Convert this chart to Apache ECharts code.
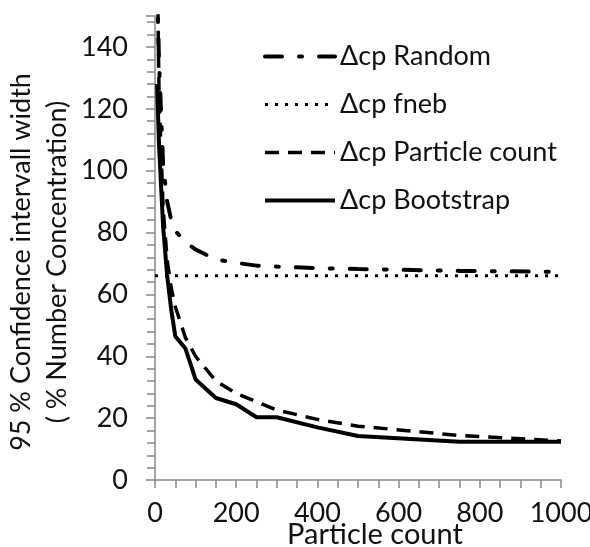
<!DOCTYPE html>
<html><head><meta charset="utf-8">
<script src="https://cdn.jsdelivr.net/npm/echarts@6/dist/echarts.min.js"></script>
<style>html,body{margin:0;padding:0;background:#fff}#c{width:590px;height:547px}</style>
</head><body><div id="c"></div>
<script>
const particleCounts = [5, 10, 20, 30, 40, 50, 75, 100, 150, 200, 250, 300, 400, 500, 750, 1000];
const randomVals     = [160, 135, 102, 90, 84, 80.5, 77, 74.5, 71.3, 70.2, 69.3, 69, 68.5, 68.2, 67.6, 67.3];
const particleVals   = [175, 124, 88, 71, 62, 56, 46, 40, 32, 28, 25.3, 22.6, 19.6, 17.4, 14.4, 12.6];
const bootstrapVals  = [128, 108, 82, 66, 55, 46.5, 42.5, 32.5, 26.5, 24.5, 20.3, 20.3, 17, 14.2, 12.4, 12.4];
const fnebX = [0, 1000];
const fnebVals = [66, 66];
const seriesNames = ['\u0394cp Random', '\u0394cp fneb', '\u0394cp Particle count', '\u0394cp Bootstrap'];
const xTicks = [0, 200, 400, 600, 800, 1000];
const yTicks = [0, 20, 40, 60, 80, 100, 120, 140];

const pairs = (xs, ys) => xs.map((x, i) => [x, ys[i]]);
const FONT = 'Lato';
const styles = [
  {color: '#000', width: 4, type: [17, 17, 3, 17], cap: 'round'},
  {color: '#000', width: 3, type: [3, 7]},
  {color: '#000', width: 3.5, type: [14, 9]},
  {color: '#000', width: 4}
];
const chart = echarts.init(document.getElementById('c'), null, {renderer: 'canvas'});
chart.setOption({
  animation: false,
  backgroundColor: '#fff',
  grid: {left: 155, right: 29, top: 16, bottom: 67, containLabel: false, outerBoundsMode: 'none'},
  legend: {
    orient: 'vertical', left: 258, top: 38,
    itemWidth: 70, itemHeight: 28, itemGap: 21,
    itemStyle: {opacity: 0},
    data: seriesNames.map((n, i) => ({name: n, lineStyle: styles[i], itemStyle: {opacity: 0}})),
    textStyle: {fontFamily: FONT, fontSize: 27, color: '#111'}
  },
  xAxis: {
    type: 'value', min: 0, max: 1000, interval: 200,
    name: 'Particle count', nameLocation: 'middle', nameGap: 40, nameMoveOverlap: false,
    nameTextStyle: {fontFamily: FONT, fontSize: 29, color: '#111', padding: [0, 0, 0, 34]},
    axisLine: {show: true, lineStyle: {color: '#888', width: 1.5}},
    axisTick: {show: true, length: 8, lineStyle: {color: '#888', width: 1.5}},
    minorTick: {show: true, splitNumber: 4, length: 8, lineStyle: {color: '#888', width: 1.5}},
    splitLine: {show: false},
    axisLabel: {fontFamily: FONT, fontSize: 27, color: '#111', margin: 20,
      formatter: v => xTicks.includes(v) ? String(v) : ''}
  },
  yAxis: {
    type: 'value', min: 0, max: 150, interval: 20,
    name: '95 % Confidence intervall width\n( % Number Concentration)',
    nameLocation: 'middle', nameGap: 80, nameRotate: 90, nameMoveOverlap: false,
    nameTextStyle: {fontFamily: FONT, fontSize: 27, color: '#111', lineHeight: 36, padding: [0, 28, 0, 0]},
    axisLine: {show: true, lineStyle: {color: '#888', width: 1.5}},
    axisTick: {show: true, length: 9, lineStyle: {color: '#888', width: 1.5}},
    minorTick: {show: true, splitNumber: 5, length: 8, lineStyle: {color: '#888', width: 1.5}},
    splitLine: {show: false},
    axisLabel: {fontFamily: FONT, fontSize: 27, color: '#111', margin: 27,
      formatter: v => yTicks.includes(v) ? String(v) : ''}
  },
  series: [
    {name: seriesNames[0], type: 'line', symbol: 'none', data: pairs(particleCounts, randomVals),
     lineStyle: styles[0], itemStyle: {color: '#000'}},
    {name: seriesNames[1], type: 'line', symbol: 'none', data: pairs(fnebX, fnebVals),
     lineStyle: styles[1], itemStyle: {color: '#000'}},
    {name: seriesNames[2], type: 'line', symbol: 'none', data: pairs(particleCounts, particleVals),
     lineStyle: styles[2], itemStyle: {color: '#000'}},
    {name: seriesNames[3], type: 'line', symbol: 'none', data: pairs(particleCounts, bootstrapVals),
     lineStyle: styles[3], itemStyle: {color: '#000'}}
  ]
});
</script></body></html>
